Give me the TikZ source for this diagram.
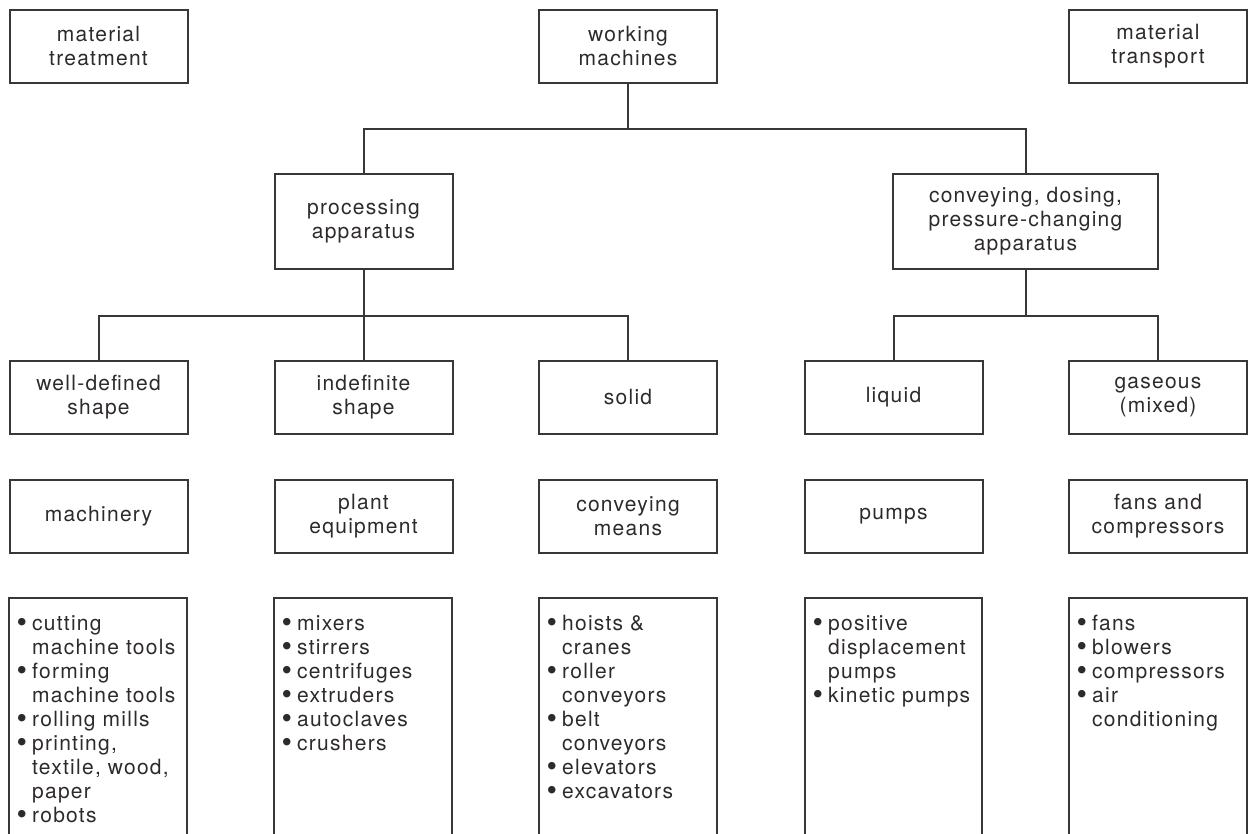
\documentclass[tikz,border=0pt]{standalone}
\usepackage{fontspec}
\setmainfont{TeX Gyre Heros}[LetterSpace=6]
\definecolor{ink}{HTML}{3A3536}
\definecolor{txt}{HTML}{2E2A2B}
% one bulleted entry with hanging continuation lines
\newcommand{\itm}{\par\hangindent=13.5pt\hangafter=1\noindent
  \makebox[13.5pt][l]{\hspace{-2pt}\raisebox{-2.2pt}{\fontsize{30}{30}\selectfont\textbullet}}\strut}
\begin{document}
\begin{tikzpicture}[x=1pt,y=-1pt,
  txtstyle/.style={text=txt,font=\fontsize{21}{24}\selectfont},
  box/.style={txtstyle,draw=ink,line width=2pt,minimum width=178pt,
    minimum height=73pt,inner sep=0pt,align=center},
  tallbox/.style={box,minimum height=95pt},
  listtext/.style={txtstyle,anchor=north west,inner sep=0pt,
    text width=166pt,align=left},
  link/.style={draw=ink,line width=2pt},
  frame/.style={draw=ink,line width=2pt}]
\useasboundingbox (0,0) rectangle (1251,834);

% top row
\node[box] (treat) at (98.5,46.5) {material\\treatment};
\node[box] (wm) at (628,46.5) {working\\machines};
\node[box] (transp) at (1158,46.5) {material\\transport};

% second row
\node[tallbox] (proc) at (363.5,221.5) {processing\\apparatus};
\node[tallbox,minimum width=265pt] (conv) at (1025.5,221.5)
  {conveying, dosing,\\pressure-changing\\apparatus};

% third row
\node[box] (well) at (98.5,397.5) {well-defined\\shape};
\node[box] (indef) at (363.5,397.5) {indefinite\\shape};
\node[box] (solid) at (628,397.5) {solid};
\node[box] (liquid) at (893.5,397.5) {liquid};
\node[box] (gas) at (1158,397.5) {gaseous\\(mixed)};

% fourth row
\node[box] (mach) at (98.5,516.5) {machinery};
\node[box] (plant) at (363.5,516.5) {plant\\equipment};
\node[box] (means) at (628,516.5) {conveying\\means};
\node[box] (pumps) at (893.5,516.5) {pumps};
\node[box] (fans) at (1158,516.5) {fans and\\compressors};

% tree connectors
\coordinate (bus1) at (628,129);
\coordinate (bus2) at (363.5,316);
\coordinate (bus3) at (1025.5,316);
\draw[link] (wm.south) -- (bus1);
\draw[link] (proc.north) |- (bus1) -| (conv.north);
\draw[link] (proc.south) -- (bus2);
\draw[link] (well.north) |- (bus2) -| (solid.north);
\draw[link] (indef.north) -- (bus2);
\draw[link] (conv.south) -- (bus3);
\draw[link] (liquid.north) |- (bus3) -| (gas.north);

% bottom row: open frames running off the lower edge
\draw[frame] (9,840) |- (187,598) -- (187,840);
\draw[frame] (274,840) |- (452,598) -- (452,840);
\draw[frame] (539,840) |- (717,598) -- (717,840);
\draw[frame] (805,840) |- (982,598) -- (982,840);
\draw[frame] (1069,840) |- (1247,598) -- (1247,840);

\node[listtext] (l1) at (18.5,606) {\itm cutting\newline machine tools
  \itm forming\newline machine tools \itm rolling mills
  \itm printing,\newline textile, wood,\newline paper \itm robots\par};
\node[listtext] (l2) at (283.5,606) {\itm mixers \itm stirrers
  \itm centrifuges \itm extruders \itm autoclaves \itm crushers\par};
\node[listtext] (l3) at (548.5,606) {\itm hoists \&\newline cranes
  \itm roller\newline conveyors \itm belt\newline conveyors \itm elevators
  \itm excavators\par};
\node[listtext] (l4) at (814.5,606) {\itm positive\newline displacement\newline pumps
  \itm kinetic pumps\par};
\node[listtext] (l5) at (1078.5,606) {\itm fans \itm blowers
  \itm compressors \itm air\newline conditioning\par};
\end{tikzpicture}
\end{document}
